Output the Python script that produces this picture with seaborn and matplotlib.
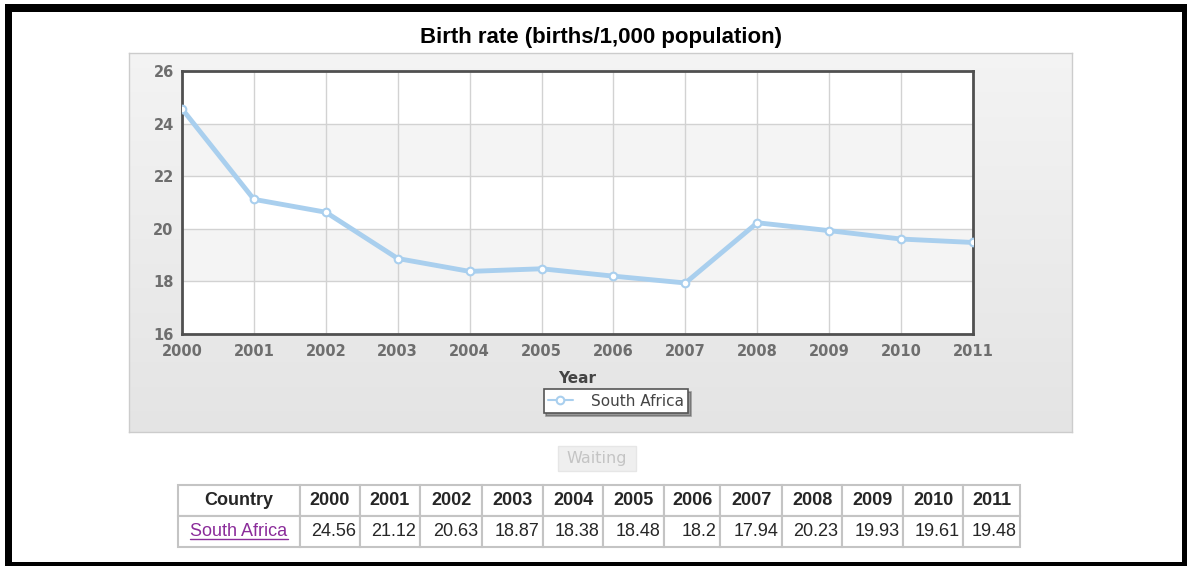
import matplotlib
matplotlib.use("Agg")
import matplotlib.pyplot as plt
from matplotlib.patches import Rectangle
from matplotlib.table import Table
import numpy as np
import seaborn as sns

country = "South Africa"
years = [2000, 2001, 2002, 2003, 2004, 2005, 2006, 2007, 2008, 2009, 2010, 2011]
birth_rate = [24.56, 21.12, 20.63, 18.87, 18.38, 18.48, 18.2, 17.94, 20.23, 19.93, 19.61, 19.48]
y_ticks = [16, 18, 20, 22, 24, 26]
title = "Birth rate (births/1,000 population)"

W, H = 1187, 566
LINE_BLUE = '#a9cfee'
TICK_GRAY = '#6e6e6e'

sns.set_style("white")
plt.rcParams['font.family'] = ['DejaVu Sans']

fig = plt.figure(figsize=(W / 100, H / 100), dpi=100)
fig.patch.set_facecolor('white')


def px_box(x0, y0, x1, y1):
    # pixels (origine en haut à gauche) -> coordonnées figure
    return [x0 / W, 1 - y1 / H, (x1 - x0) / W, (y1 - y0) / H]


# Cadre noir de la capture
fig.patches.append(Rectangle((5 / W, 0), 1 - 5 / W, 1 - 4 / H, transform=fig.transFigure,
                             facecolor='black', edgecolor='none', zorder=-20))
b = px_box(12, 12, 1182, 562)
fig.patches.append(Rectangle((b[0], b[1]), b[2], b[3], transform=fig.transFigure,
                             facecolor='white', edgecolor='none', zorder=-19))

# Panneau gris en dégradé derrière le graphique
bg = fig.add_axes(px_box(129, 53, 1072, 432), zorder=-5)
grad = np.linspace(0.955, 0.895, 100).reshape(-1, 1)
bg.imshow(np.dstack([grad, grad, grad]), aspect='auto', extent=[0, 1, 0, 1], interpolation='bicubic')
bg.set_xlim(0, 1)
bg.set_ylim(0, 1)
for s in bg.spines.values():
    s.set_color('#cccccc')
    s.set_linewidth(1)
bg.set_xticks([])
bg.set_yticks([])

fig.text(601 / W, 1 - 38 / H, title, ha='center', va='center', fontsize=16,
         fontweight='bold', family='Liberation Sans', color='black')

# Zone de tracé
ax = fig.add_axes(px_box(182, 71, 973, 334), zorder=1)
ax.set_facecolor('white')
for i in range(len(y_ticks) - 1):
    if i % 2 == 1:
        ax.axhspan(y_ticks[i], y_ticks[i + 1], color='#f4f4f4', zorder=0, lw=0)

sns.lineplot(x=years, y=birth_rate, ax=ax, color=LINE_BLUE, linewidth=3.5,
             marker='o', markersize=5.5, markerfacecolor='white',
             markeredgecolor=LINE_BLUE, markeredgewidth=1.5, label=country, zorder=3)

ax.set_xlim(years[0], years[-1])
ax.set_ylim(y_ticks[0], y_ticks[-1])
ax.set_xticks(years)
ax.set_yticks(y_ticks)
ax.grid(True, color='#d2d2d2', linewidth=1, zorder=1)
ax.set_axisbelow(True)
ax.tick_params(length=0, labelsize=10.5, labelcolor=TICK_GRAY)
ax.tick_params(axis='x', pad=7)
ax.tick_params(axis='y', pad=6)
for lab in ax.get_xticklabels() + ax.get_yticklabels():
    lab.set_fontweight('bold')
for s in ax.spines.values():
    s.set_visible(True)
    s.set_color('#505050')
    s.set_linewidth(2)

ax.set_xlabel("Year", fontsize=11, fontweight='bold', color='#444444', labelpad=9)
ax.set_ylabel("")

leg = ax.legend(loc='center', bbox_to_anchor=(616 / W, 1 - 401 / H),
                bbox_transform=fig.transFigure, frameon=True, shadow=True,
                fancybox=False, fontsize=11, handlelength=1.6, borderpad=0.3,
                handletextpad=1.2)
leg.get_frame().set_edgecolor('#555555')
leg.get_frame().set_linewidth(1.2)
for t in leg.get_texts():
    t.set_color('#444444')
for h in leg.legend_handles:
    h.set_linewidth(1.5)

# Bouton "Waiting"
wb = px_box(558, 446, 636, 471)
fig.patches.append(Rectangle((wb[0], wb[1]), wb[2], wb[3], transform=fig.transFigure,
                             facecolor='#efefef', edgecolor='#e6e6e6', zorder=2))
fig.text(597 / W, 1 - 459 / H, "Waiting", ha='center', va='center', fontsize=11.5,
         color='#c4c4c4')

# Tableau des valeurs
tax = fig.add_axes(px_box(178, 485, 1020, 547))
tax.set_axis_off()
col_px = [122] + [60, 60, 62, 61, 60, 61, 56, 62, 60, 61, 60, 57]
total = sum(col_px)
tb = Table(tax, bbox=[0, 0, 1, 1])
header = ["Country"] + [str(y) for y in years]
row = [country] + [f"{v:g}" for v in birth_rate]
for c, w in enumerate(col_px):
    cell = tb.add_cell(0, c, w / total, 0.5, text=header[c], loc='center')
    cell.get_text().set_fontweight('bold')
    cell = tb.add_cell(1, c, w / total, 0.5, text=row[c], loc='center' if c == 0 else 'right')
    if c == 0:
        cell.get_text().set_color('#8b2c9a')
for cell in tb.get_celld().values():
    cell.set_edgecolor('#c4c4c4')
    cell.set_linewidth(1.5)
    cell.PAD = 0.06
    cell.get_text().set_family('Liberation Sans')
tb.auto_set_font_size(False)
tb.set_fontsize(13)
tax.add_table(tb)

# soulignement du lien
fig.canvas.draw()
link = tb[1, 0].get_text()
bb = link.get_window_extent().transformed(fig.transFigure.inverted())
fig.add_artist(plt.Line2D([bb.x0, bb.x1], [bb.y0 + 0.002, bb.y0 + 0.002],
                          transform=fig.transFigure, color='#8b2c9a', linewidth=1))

fig.savefig("out.png", dpi=100, facecolor=fig.get_facecolor())
